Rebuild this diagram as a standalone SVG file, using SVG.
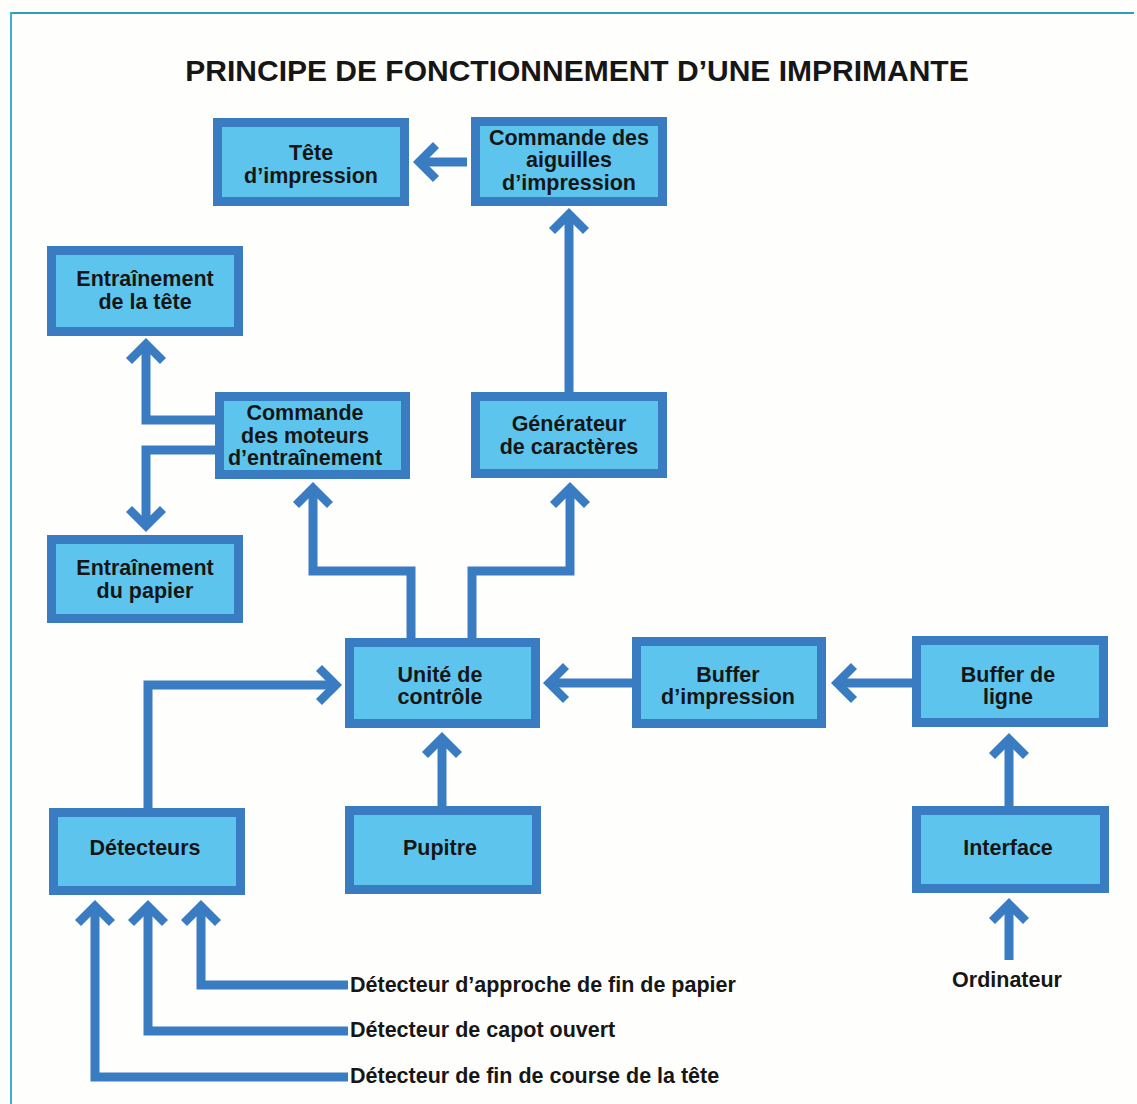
<svg xmlns="http://www.w3.org/2000/svg" width="1137" height="1104" viewBox="0 0 1137 1104">
  <style>
    .box rect { fill: #5dc5ed; stroke: #3a7cc2; stroke-width: 9; }
    .box text { font-family: "Liberation Sans", Arial, sans-serif; font-weight: bold; font-size: 21.5px; fill: #161616; text-anchor: middle; }
    .wire { fill: none; stroke: #3a7cc2; stroke-width: 9; stroke-linejoin: miter; }
    .arrow { marker-end: url(#chev); }
    .label { font-family: "Liberation Sans", Arial, sans-serif; font-weight: bold; font-size: 21.5px; fill: #161616; }
    .title { font-family: "Liberation Sans", Arial, sans-serif; font-weight: bold; font-size: 30px; fill: #161616; text-anchor: middle; }
  </style>
  <defs>
    <marker id="chev" markerUnits="userSpaceOnUse" orient="auto" refX="0" refY="0" markerWidth="60" markerHeight="60" viewBox="-30 -30 60 60" overflow="visible">
      <path d="M -17 -17 L 0 0 L -17 17" fill="none" stroke="#3a7cc2" stroke-width="8.5" stroke-linejoin="miter"/>
    </marker>
  </defs>

  <rect x="0" y="0" width="1137" height="1104" fill="#fefefc"/>
  <!-- frame -->
  <line x1="10" y1="13" x2="1134" y2="13" stroke="#2f9fb8" stroke-width="2"/>
  <line x1="11" y1="12" x2="11" y2="1104" stroke="#38b2d4" stroke-width="2"/>

  <text class="title" x="577" y="81">PRINCIPE DE FONCTIONNEMENT D’UNE IMPRIMANTE</text>

  <!-- connectors -->
  <g id="connectors">
    <path class="wire arrow" d="M 467 162 L 419 162"/>
    <path class="wire arrow" d="M 569 392 L 569 214"/>
    <path class="wire arrow" d="M 215 420 L 146 420 L 146 344"/>
    <path class="wire arrow" d="M 215 450 L 146 450 L 146 526"/>
    <path class="wire arrow" d="M 411 638 L 411 571 L 313 571 L 313 488"/>
    <path class="wire arrow" d="M 472 638 L 472 571 L 570 571 L 570 488"/>
    <path class="wire arrow" d="M 632 683 L 549 683"/>
    <path class="wire arrow" d="M 912 683 L 837 683"/>
    <path class="wire arrow" d="M 1009 806 L 1009 739"/>
    <path class="wire arrow" d="M 1009 960 L 1009 904"/>
    <path class="wire arrow" d="M 442 806 L 442 738"/>
    <path class="wire arrow" d="M 148 808 L 148 685 L 336 685"/>
    <path class="wire arrow" d="M 348 985 L 201 985 L 201 906"/>
    <path class="wire arrow" d="M 348 1031 L 148 1031 L 148 906"/>
    <path class="wire arrow" d="M 348 1077 L 95 1077 L 95 906"/>
  </g>

  <!-- nodes -->
  <g id="tete" class="box">
    <rect x="217.5" y="122.5" width="187" height="79"/>
    <text x="311" y="160">Tête</text>
    <text x="311" y="183">d’impression</text>
  </g>
  <g id="commande-aiguilles" class="box">
    <rect x="475.5" y="121.5" width="187" height="80"/>
    <text x="569" y="145">Commande des</text>
    <text x="569" y="167">aiguilles</text>
    <text x="569" y="190">d’impression</text>
  </g>
  <g id="entrainement-tete" class="box">
    <rect x="51.5" y="250.5" width="187" height="81"/>
    <text x="145" y="286">Entraînement</text>
    <text x="145" y="309">de la tête</text>
  </g>
  <g id="commande-moteurs" class="box">
    <rect x="219.5" y="396.5" width="186" height="78"/>
    <text x="305" y="420">Commande</text>
    <text x="305" y="443">des moteurs</text>
    <text x="305" y="465">d’entraînement</text>
  </g>
  <g id="generateur" class="box">
    <rect x="475.5" y="396.5" width="187" height="77"/>
    <text x="569" y="431">Générateur</text>
    <text x="569" y="454">de caractères</text>
  </g>
  <g id="entrainement-papier" class="box">
    <rect x="51.5" y="539.5" width="187" height="79"/>
    <text x="145" y="575">Entraînement</text>
    <text x="145" y="598">du papier</text>
  </g>
  <g id="unite-controle" class="box">
    <rect x="349.5" y="642.5" width="186" height="81"/>
    <text x="440" y="682">Unité de</text>
    <text x="440" y="704">contrôle</text>
  </g>
  <g id="buffer-impression" class="box">
    <rect x="636.5" y="641.5" width="185" height="82"/>
    <text x="728" y="682">Buffer</text>
    <text x="728" y="704">d’impression</text>
  </g>
  <g id="buffer-ligne" class="box">
    <rect x="916.5" y="640.5" width="187" height="82"/>
    <text x="1008" y="682">Buffer de</text>
    <text x="1008" y="704">ligne</text>
  </g>
  <g id="detecteurs" class="box">
    <rect x="53.5" y="812.5" width="187" height="78"/>
    <text x="145" y="855">Détecteurs</text>
  </g>
  <g id="pupitre" class="box">
    <rect x="349.5" y="810.5" width="187" height="79"/>
    <text x="440" y="855">Pupitre</text>
  </g>
  <g id="interface" class="box">
    <rect x="916.5" y="810.5" width="188" height="78"/>
    <text x="1008" y="855">Interface</text>
  </g>

  <g id="ordinateur">
    <text class="label" x="1007" y="987" text-anchor="middle">Ordinateur</text>
  </g>
  <g id="detecteur-papier">
    <text class="label" x="350" y="992">Détecteur d’approche de fin de papier</text>
  </g>
  <g id="detecteur-capot">
    <text class="label" x="350" y="1037">Détecteur de capot ouvert</text>
  </g>
  <g id="detecteur-course">
    <text class="label" x="350" y="1083">Détecteur de fin de course de la tête</text>
  </g>
</svg>
